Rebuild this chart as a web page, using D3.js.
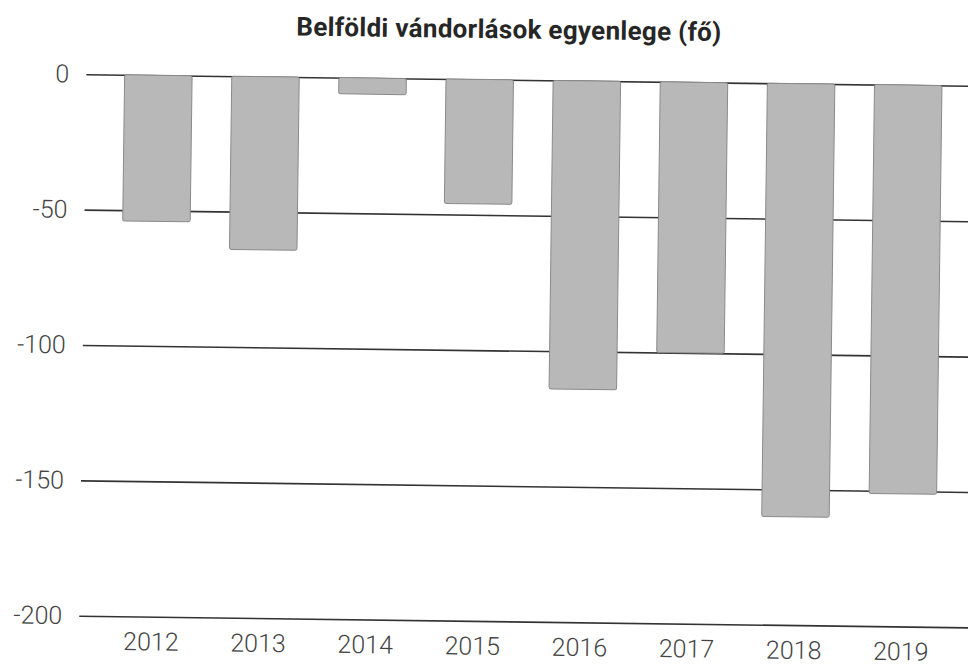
<!DOCTYPE html>
<html>
<head>
<meta charset="utf-8">
<script src="https://cdn.jsdelivr.net/npm/d3@7"></script>
<style>
  body { margin: 0; background: #fff; }
  svg { display: block; font-family: Roboto, "Noto Sans", sans-serif; }
</style>
</head>
<body>
<svg id="chart"></svg>
<script>
var width = 968,
    height = 664;

// data
var years = ["2012", "2013", "2014", "2015", "2016", "2017", "2018", "2019"];
var balance = [-54, -64, -6, -46, -114, -100, -160, -151];
var yTicks = [0, -50, -100, -150, -200];
var title = "Belföldi vándorlások egyenlege (fő)";

var svg = d3.select("#chart")
    .attr("width", width)
    .attr("height", height);

// the source is a slightly tilted scan
var g = svg.append("g")
    .attr("transform", "rotate(0.75,484,332)");

var x = d3.scaleBand()
    .domain(years)
    .range([102, 958])
    .paddingInner(0.37)
    .paddingOuter(0.18);

var y = d3.scaleLinear()
    .domain([0, -200])
    .range([79.5, 621]);

// gridlines + y labels
var yAxis = g.append("g")
    .attr("transform", "translate(83,0)")
    .call(d3.axisLeft(y).tickValues(yTicks).tickSize(-(width + 20 - 83)).tickPadding(17)
        .tickFormat(function(d) { return String(d); }));
yAxis.select(".domain").remove();
yAxis.selectAll(".tick line")
    .attr("stroke", "#333")
    .attr("stroke-width", 1.6);
yAxis.selectAll(".tick text")
    .attr("fill", "#444")
    .attr("font-size", 25)
    .attr("font-weight", 300)
    .attr("font-family", "Roboto, sans-serif");

// bars
g.append("g").selectAll("rect")
    .data(years)
    .enter()
    .append("rect")
        .attr("x", function(d) { return x(d); })
        .attr("y", y(0))
        .attr("width", x.bandwidth())
        .attr("height", function(d, i) { return y(balance[i]) - y(0); })
        .attr("rx", 2)
        .attr("fill", "#b8b8b8")
        .attr("stroke", "#8a8a8a")
        .attr("stroke-width", 1);

// x labels
var xAxis = g.append("g")
    .attr("transform", "translate(0," + y(-200) + ")")
    .call(d3.axisBottom(x).tickSize(0).tickPadding(16));
xAxis.select(".domain").remove();
xAxis.selectAll(".tick text")
    .attr("fill", "#444")
    .attr("font-size", 25)
    .attr("font-weight", 300)
    .attr("font-family", "Roboto, sans-serif");

// title
g.append("text")
    .attr("x", 505)
    .attr("y", 38)
    .attr("text-anchor", "middle")
    .attr("font-size", 26)
    .attr("font-weight", 700)
    .attr("letter-spacing", 0.3)
    .attr("fill", "#262626")
    .text(title);
</script>
</body>
</html>
